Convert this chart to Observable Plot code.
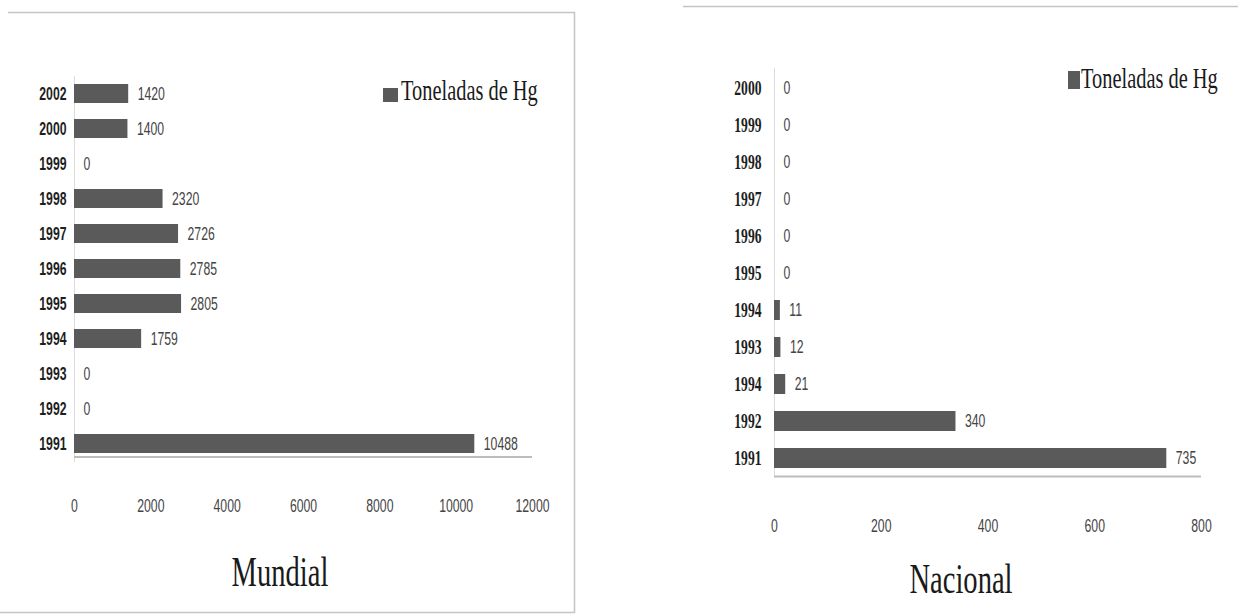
<!DOCTYPE html>
<html>
<head>
<meta charset="utf-8">
<script src="https://cdn.jsdelivr.net/npm/d3@7"></script>
<script src="https://cdn.jsdelivr.net/npm/@observablehq/plot@0.6"></script>
<style>
  html, body { margin: 0; padding: 0; background: #fff; }
  #page { position: relative; width: 1238px; height: 616px; overflow: hidden; background: #fff; }
  .panel { position: absolute; top: 0; }
  #decor { position: absolute; left: 0; top: 0; }
</style>
</head>
<body>
<div id="page"></div>
<script>
// Mercury (Hg) tonnage by year, world and national, listed top to bottom as shown
const mundialYears = ["2002", "2000", "1999", "1998", "1997", "1996", "1995", "1994", "1993", "1992", "1991"];
const mundialTons  = [1420, 1400, 0, 2320, 2726, 2785, 2805, 1759, 0, 0, 10488];
const mundialTicks = [0, 2000, 4000, 6000, 8000, 10000, 12000];

const nacionalYears = ["2000", "1999", "1998", "1997", "1996", "1995", "1994", "1993", "1994", "1992", "1991"];
const nacionalTons  = [0, 0, 0, 0, 0, 0, 11, 12, 21, 340, 735];
const nacionalTicks = [0, 200, 400, 600, 800];

const seriesName = "Toneladas de Hg";
const titles = ["Mundial", "Nacional"];

// The typeface in this figure is narrow; every label is squeezed horizontally by this factor.
const SQUEEZE = 0.68;
const BAR = "#5a5a5a";
const SANS = "'Liberation Sans', Arial, sans-serif";
const SERIF = "'Liberation Serif', 'Times New Roman', serif";

function condenseText(svg) {
  svg.querySelectorAll("text").forEach((t) => {
    const tr = t.getAttribute("transform");
    if (tr) {
      t.setAttribute("transform", `${tr} scale(${SQUEEZE},1)`);
    } else {
      const x = +(t.getAttribute("x") || 0);
      t.setAttribute("transform", `translate(${x * (1 - SQUEEZE)},0) scale(${SQUEEZE},1)`);
    }
  });
}

function barPanel(cfg) {
  // rows are keyed by position, since a year label can repeat
  const rows = cfg.years.map((year, i) => ({row: i, year, tons: cfg.tons[i]}));
  const last = rows[rows.length - 1].row;
  const plot = Plot.plot({
    width: cfg.width,
    height: 616,
    marginLeft: cfg.marginLeft,
    marginRight: cfg.marginRight,
    marginTop: cfg.marginTop,
    marginBottom: cfg.marginBottom,
    style: {background: "transparent", color: "#3a3a3a", fontFamily: SANS, overflow: "visible"},
    x: {domain: [cfg.ticks[0], cfg.ticks[cfg.ticks.length - 1]], label: null},
    y: {type: "band", domain: rows.map((d) => d.row), paddingInner: cfg.paddingInner, paddingOuter: 0.2, label: null, axis: null},
    marks: [
      Plot.ruleX([0], {stroke: "#dcdcdc", strokeWidth: 1}),
      Plot.barX(rows, {x: "tons", y: "row", fill: BAR}),
      Plot.ruleY([last], {dy: cfg.axisOffset, stroke: "#bdbdbd", strokeWidth: 2}),
      // value labels beside each bar
      Plot.text(rows, {
        x: "tons", y: "row", text: (d) => String(d.tons), dx: 9, textAnchor: "start",
        fontSize: 18, fill: "#444", fontFamily: SANS
      }),
      // year labels down the left edge of the bars
      Plot.text(rows, {
        y: "row", text: "year", frameAnchor: "left", dx: -cfg.yPadding, textAnchor: "end",
        fontSize: cfg.yFontSize, fontWeight: "bold", fontFamily: cfg.yFont, fill: "#1e1e1e"
      }),
      Plot.axisX(cfg.ticks, {
        tickSize: 0, tickPadding: cfg.xPadding, tickFormat: (d) => String(d),
        fontSize: 18, fill: "#444", label: null
      })
    ]
  });
  condenseText(plot);
  plot.classList.add("panel");
  plot.style.left = cfg.left + "px";
  return plot;
}

const page = document.getElementById("page");

page.appendChild(barPanel({
  years: mundialYears, tons: mundialTons, ticks: mundialTicks,
  left: 0, width: 580, marginLeft: 74, marginRight: 48, marginTop: 76, marginBottom: 154,
  paddingInner: 0.45, axisOffset: 13, yPadding: 8, xPadding: 37, yFontSize: 18,
  yFont: SANS
}));

page.appendChild(barPanel({
  years: nacionalYears, tons: nacionalTons, ticks: nacionalTicks,
  left: 620, width: 618, marginLeft: 154, marginRight: 37, marginTop: 68, marginBottom: 139,
  paddingInner: 0.46, axisOffset: 18, yPadding: 13, xPadding: 42, yFontSize: 20,
  yFont: SERIF
}));

// Frames, legends and panel titles
const decor = d3.select(page).append("svg")
  .attr("id", "decor").attr("width", 1238).attr("height", 616);

// left panel outline (top, right, bottom)
decor.append("path")
  .attr("d", "M8,12.5H574.5V612.5H0")
  .attr("fill", "none").attr("stroke", "#c4c4c4").attr("stroke-width", 1.5);
// right panel top edge
decor.append("path")
  .attr("d", "M683,6.5H1238")
  .attr("fill", "none").attr("stroke", "#c4c4c4").attr("stroke-width", 1.5);

const legends = [
  {sx: 383, sy: 88, sw: 15, sh: 14, tx: 401, ty: 100},
  {sx: 1068, sy: 71, sw: 12, sh: 18, tx: 1081, ty: 88}
];
legends.forEach((l) => {
  decor.append("rect").attr("x", l.sx).attr("y", l.sy).attr("width", l.sw).attr("height", l.sh).attr("fill", BAR);
  decor.append("text")
    .attr("transform", `translate(${l.tx},${l.ty}) scale(${SQUEEZE},1)`)
    .attr("font-family", SERIF)
    .attr("font-size", 30).attr("fill", "#1a1a1a")
    .text(seriesName);
});

const titlePos = [{x: 280, y: 586}, {x: 961, y: 593}];
titles.forEach((t, i) => {
  decor.append("text")
    .attr("transform", `translate(${titlePos[i].x},${titlePos[i].y}) scale(${SQUEEZE},1)`)
    .attr("text-anchor", "middle")
    .attr("font-family", SERIF)
    .attr("font-size", 42).attr("fill", "#1a1a1a")
    .text(t);
});
</script>
</body>
</html>
